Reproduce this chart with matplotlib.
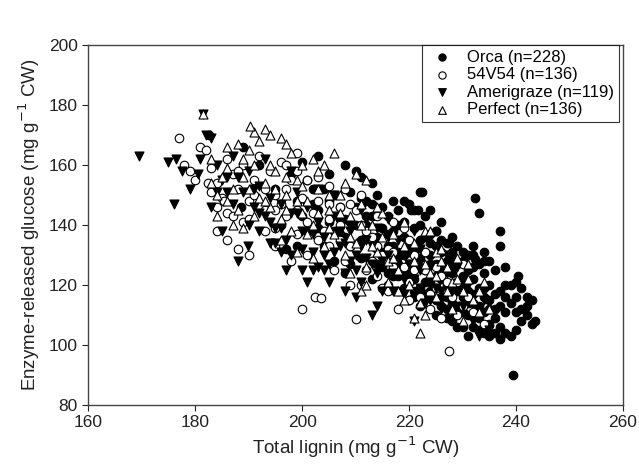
import matplotlib
matplotlib.use("Agg")
import matplotlib.pyplot as plt

plt.rcParams['font.family'] = ['Liberation Sans', 'DejaVu Sans']

orca_x = [189,192,195,196,197,198,199,200,201,202,203,203,204,205,205,206,206,207,207,208,208,208,209,209,210,210,211,211,212,212,
          213,213,214,214,215,215,215,216,216,216,217,217,217,218,218,218,219,219,219,220,220,220,220,221,221,221,222,222,222,222,
          223,223,223,224,224,224,225,225,225,225,226,226,226,227,227,227,227,228,228,228,228,229,229,229,230,230,230,230,231,231,
          231,231,232,232,232,232,233,233,233,233,234,234,234,235,235,235,235,236,236,237,237,237,237,238,238,238,239,239,239.5,240,
          240,241,241,242,242,243,243.5,243,236,234,229,224,226,219,213,210,217,221,214,211,206,231,228,223,218,212,209,182.5,188.5,
          222.5,232.3,220.3,221.7,225,227.4,232.3,240.3,
          214,215,216,217,218,219,220,221,222,223,224,225,226,227,228,229,230,231,232,233,234,235,236,237,238,239,240,241,242,
          218,220,222,224,226,228,230,232,234,236,212,213,211,209,208,207,205,204,203,202,201,200,199,216,219,221,223,225,227,229,
          233,235,237,238,240,222,224,226,228,230,232,234]
orca_y = [166,160,152,140,132,157,148,161,138,152,163,145,133,157,141,150,128,146,137,160,142,124,151,133,146,140,156,129,148,136,
          143,122,150,132,139,146,126,143,133,120,148,138,128,145,131,118,141,136,124,147,133,127,115,145,139,122,151,135,129,113,
          143,131,125,137,127,118,138,133,123,110,131,126,116,134,128,120,112,129,124,117,108,127,121,113,128,123,116,106,125,118,
          110,103,130,122,114,106,144,127,119,109,124,116,104,128,120,112,107,117,109,138,133,113,106,126,111,104,120,103,90,116,
          105,119,108,116,113,107,108,115,125,128,133,145,141,148,154,158,123,118,127,135,138,130,136,136,140,143,127,170,146,
          151,149,145,145,138,134,128.6,122.8,
          136,131,137,133,127,130,124,131,126,121,130,127,122,116,126,118,120,114,117,113,119,115,112,118,120,114,111,112,110,
          123,121,119,121,113,114,111,126,111,104,140,147,149,141,136,142,148,152,139,147,155,143,133,124,119,116,117,115,109,106,
          105,103,102,116,121,140,134,135,131,131,133,131]

v54_x = [177,178,179,180,181,182,183,184,185,186,184,186,187,188,189,190,191,192,193,194,195,196,197,198,199,200,201,202,203,204,
         205,206,207,208,209,210,211,212,213,214,215,216,217,218,219,220,221,222,223,224,225,226,227.5,228,229,230,232,234,200,202.5,
         203.5,210,190,188,185.4,187,195,198,193,196,205,208,211,214,217,220,199,183,182.4,189,
         195,197,199,201,203,205,207,209,211,213,215,217,219,221,223,225,227,229,231,191,193,195,197,199,201,203,205,207,209,212,
         214,216,220,224,226,230,188,186,184,190]
v54_y = [169,160,158,155,166,165,159,154,149,144,138,135,157,152,160,148,155,163,145,158,150,161,143,155,137,149,130,144,156,138,
         147,125,140,152,133,145,120,138,128,143,119,132,126,112,139,121,130,116,125,112,119,123,98,116,110,127,111,107,112,116,
         115.5,108.5,130,132,148,143,139,128,152,147,133,128,150,133,141,135,158,151,154,141,
         145,152,145,141,135,142,135,147,140,136,130,131,126,125,131,126,121,121,116,150,138,133,160,164,155,148,153,146,120,125,
         123,118,115,117,109,113,158,162,146,142]

ameri_x = [169.5,175,176.5,177.5,176,183,181.5,182,183,180.5,184,185,186,187,188,189,190,191,192,193,194,195,196,197,198,199,200,201,202,203,
           204,205,206,207,208,209,210,211,212,213,214,215,216,217,218,219,220,221,222,223,224,225,226,227,228,230,232,234,235,229,
           185,189.8,188,196,200,205,210,214,219,206,211,216,221,198,203,193,187,192,208,213,231,233,195,202,204,221,
           190,192,194,196,198,200,202,204,206,208,210,212,214,216,218,220,222,224,226,228,203,201,197,194,199,207,213,217,222,227,
           191,186,184,181,179,209,211,215]
ameri_y = [163,161,162,158,147,146,177,170,169,157,160,155,151,147,156,151,158,146,153,143,149,139,147,135,144,151,138,146,131,141,
           136,127,143,133,124,138,130,121,135,127,139,118,130,124,135,117,127,122,132,114,126,119,112,124,118,113,108,115,105,126,
           138,133,128,131,125,121,116,113,122,150,145,142,138,158,152,162,163,138,118,110,120,103,134,125,125,108,
           140,144,134,139,130,132,137,130,131,134,125,129,124,136,128,131,125,115,118,111,126,121,125,141,144,138,133,118,119,130,
           152,156,151,162,152,128,133,128]

perf_x = [181.5,191,193,194,188,190,192,196,197,198,200,202,203,206,210,186,185,183,184,187,189,191,193,195,197,199,201,203,205,207,
          209,211,213,215,217,219,221,223,225,226,227,229,231,233,235,222,221,223,225,228,230,232,234,220,218,216,214,212,210,208,
          206,204,202,200,198,196,194,192,190,188,186,184,189,199,209,219,211,216,224,228,205,212,197,183,186,224,190.3,
          191,193,195,197,199,201,203,205,207,209,211,213,215,217,219,221,223,225,227,229,231,233,200,204,208,194,189,187,196,212,
          218,222,226,230,214,202]
perf_y = [177,171,172,170,167,165,168,169,167,164,160,162,158,164,157,159,156,154,150,152,156,160,154,158,150,155,148,152,145,150,
          143,147,140,144,137,141,134,138,131,132,126,129,122,118,112,104,109,110,116,112,118,115,121,120,125,128,131,126,134,130,
          137,133,140,144,138,142,146,149,152,145,148,143,139,131,124,115,118,121,124,121,150,155,156,162,166,138,173,
          143,148,152,145,148,137,144,139,144,136,140,133,136,129,133,128,127,123,118,122,127,111,153,160,154,160,162,140,135,120,
          118,114,128,108,146,129]

series_labels = ['Orca (n=228)', '54V54 (n=136)', 'Amerigraze (n=119)', 'Perfect (n=136)']

fig = plt.figure(figsize=(6.39, 4.67), dpi=100)
ax = fig.add_axes([0.138, 0.133, 0.837, 0.771])

ms = 38
ax.scatter(orca_x, orca_y, s=ms, marker='o', facecolor='black', edgecolor='black', linewidth=0.8, label=series_labels[0], zorder=2)
ax.scatter(v54_x, v54_y, s=ms, marker='o', facecolor='white', edgecolor='black', linewidth=0.8, label=series_labels[1], zorder=3)
ax.scatter(ameri_x, ameri_y, s=ms + 4, marker='v', facecolor='black', edgecolor='black', linewidth=0.8, label=series_labels[2], zorder=4)
ax.scatter(perf_x, perf_y, s=ms + 4, marker='^', facecolor='white', edgecolor='black', linewidth=0.8, label=series_labels[3], zorder=5)

ax.set_xlim(160, 260)
ax.set_ylim(80, 200)
ax.set_xticks([160, 180, 200, 220, 240, 260])
ax.set_yticks([80, 100, 120, 140, 160, 180, 200])
ax.tick_params(direction='out', length=4, width=0.8, labelsize=12.5, colors='#222222', top=False, right=False)
for sp in ax.spines.values():
    sp.set_color('#444444')
    sp.set_linewidth(1.0)

ax.set_xlabel('Total lignin (mg g$^{-1}$ CW)', fontsize=13.5, color='#222222', labelpad=3)
ax.set_ylabel('Enzyme-released glucose (mg g$^{-1}$ CW)', fontsize=13.5, color='#222222', labelpad=5)

leg = ax.legend(loc='upper right', bbox_to_anchor=(0.993, 1.0), borderaxespad=0, fontsize=12,
                frameon=True, fancybox=False, edgecolor='black', handletextpad=0.6,
                labelspacing=0.15, borderpad=0.3, handlelength=1.8, markerscale=0.85)
leg.get_frame().set_linewidth(0.8)

fig.savefig('out.png', dpi=100)
